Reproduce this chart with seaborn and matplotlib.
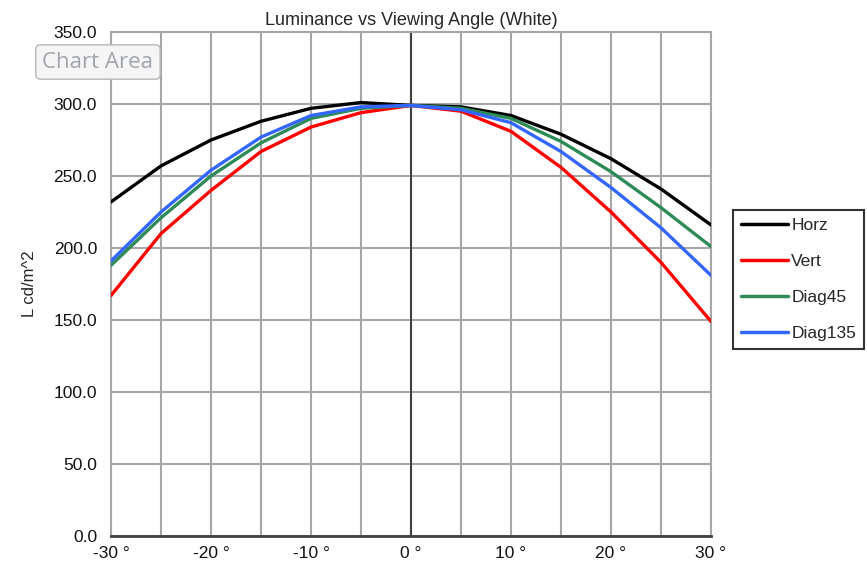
import matplotlib
matplotlib.use("Agg")
import matplotlib.pyplot as plt
import seaborn as sns
import pandas as pd
from matplotlib.ticker import MultipleLocator, FuncFormatter

# ---- data ----
angles = [-30, -25, -20, -15, -10, -5, 0, 5, 10, 15, 20, 25, 30]
horz = [232, 257, 275, 288, 297, 301, 299, 298, 292, 279, 262, 241, 216]
vert = [167, 210, 240, 267, 284, 294, 299, 295, 281, 256, 225, 190, 149]
diag45 = [188, 221, 250, 273, 290, 297, 299, 297, 290, 274, 253, 228, 201]
diag135 = [191, 225, 254, 277, 292, 298, 299, 296, 287, 267, 242, 214, 181]
series_names = ["Horz", "Vert", "Diag45", "Diag135"]
colors = ["#000000", "#ff0000", "#2e8b57", "#3366ff"]
title = "Luminance vs Viewing Angle (White)"
ylabel = "L cd/m^2"

df = pd.concat([
    pd.DataFrame({"angle": angles, "L": vals, "series": name})
    for name, vals in zip(series_names, [horz, vert, diag45, diag135])
], ignore_index=True)

sns.set_style("white")
plt.rcParams["font.family"] = ["Liberation Sans", "DejaVu Sans"]

fig = plt.figure(figsize=(8.67, 5.69), dpi=100)
ax = fig.add_axes([111/867, 1-536/569, 600/867, 504/569])

sns.lineplot(data=df, x="angle", y="L", hue="series", hue_order=series_names,
             palette=dict(zip(series_names, colors)), linewidth=2.4, ax=ax,
             legend=True, solid_joinstyle="round", solid_capstyle="round", zorder=5)

ax.set_xlim(-30, 30)
ax.set_ylim(0, 350)
ax.xaxis.set_major_locator(MultipleLocator(10))
ax.xaxis.set_minor_locator(MultipleLocator(5))
ax.yaxis.set_major_locator(MultipleLocator(50))
ax.xaxis.set_major_formatter(FuncFormatter(lambda v, p: f"{int(round(v))} \u00b0"))
ax.yaxis.set_major_formatter(FuncFormatter(lambda v, p: f"{v:.1f}"))
ax.grid(which="both", color="#a6a6a6", linewidth=1.5, zorder=0)
ax.set_axisbelow(True)
ax.tick_params(which="both", length=0)
ax.tick_params(axis="x", pad=7, labelsize=12.5, colors="#111111")
ax.tick_params(axis="y", pad=10, labelsize=12.5, colors="#111111")
ax.axvline(0, color="#404040", linewidth=1.5, zorder=2)

for side in ["top", "right", "left"]:
    ax.spines[side].set_color("#a6a6a6")
    ax.spines[side].set_linewidth(1.5)
ax.spines["bottom"].set_color("#404040")
ax.spines["bottom"].set_linewidth(2)

ax.set_xlabel("")
ax.set_ylabel(ylabel, fontsize=12, labelpad=12)
ax.set_title(title, fontsize=13, pad=5)

handles, labels = ax.get_legend_handles_labels()
ax.legend(handles, labels, loc="upper left",
          bbox_to_anchor=(733/867, 1-210/569), bbox_transform=fig.transFigure,
          borderaxespad=0, frameon=True, fancybox=False, edgecolor="#000000",
          fontsize=12.5, handlelength=2.7, handletextpad=0.2, labelspacing=1.2,
          borderpad=0.45)
leg = ax.get_legend()
leg.get_frame().set_linewidth(1.5)
for line in leg.get_lines():
    line.set_linewidth(2.5)

# tooltip-like "Chart Area" label
fig.text(98/867, 1-62/569, "Chart Area", ha="center", va="center",
         fontsize=16, color="#a0a4ac", family=["Open Sans", "DejaVu Sans"],
         bbox=dict(boxstyle="round,pad=0.3,rounding_size=0.2", facecolor="#f5f5f5",
                   edgecolor="#b5b5b5", linewidth=1), zorder=10)

fig.savefig("out.png", dpi=100)
